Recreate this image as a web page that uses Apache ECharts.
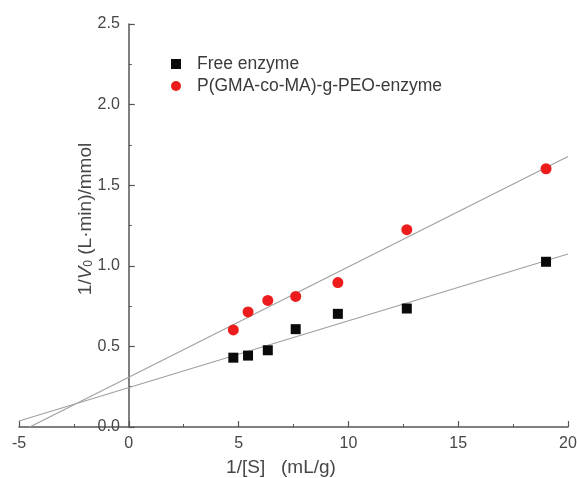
<!DOCTYPE html>
<html>
<head>
<meta charset="utf-8">
<script src="https://cdn.jsdelivr.net/npm/echarts@6/dist/echarts.min.js"></script>
<style>
  html, body { margin: 0; padding: 0; background: #fff; }
  #chart { width: 577px; height: 478px; }
</style>
</head>
<body>
<div id="chart"></div>
<script>
// Lineweaver–Burk data: 1/[S] (mL/g) against 1/V0 ((L·min)/mmol)
const invS = [4.76, 5.43, 6.33, 7.6, 9.52, 12.66, 19.0];
const freeEnzyme = [0.43, 0.443, 0.476, 0.607, 0.702, 0.735, 1.025];
const graftedEnzyme = [0.602, 0.714, 0.785, 0.81, 0.896, 1.224, 1.602];
const seriesNames = ['Free enzyme', 'P(GMA-co-MA)-g-PEO-enzyme'];
const xTicks = [-5, 0, 5, 10, 15, 20];
const yTicks = [0.0, 0.5, 1.0, 1.5, 2.0, 2.5];

// least-squares straight line through a set of points
function fit(xs, ys) {
  const n = xs.length;
  const mx = xs.reduce((a, b) => a + b, 0) / n;
  const my = ys.reduce((a, b) => a + b, 0) / n;
  let sxy = 0, sxx = 0;
  for (let i = 0; i < n; i++) {
    sxy += (xs[i] - mx) * (ys[i] - my);
    sxx += (xs[i] - mx) * (xs[i] - mx);
  }
  const slope = sxy / sxx;
  return { slope, intercept: my - slope * mx };
}
// fitted line across the whole x range, starting where it leaves y = 0
function fitLine(ys) {
  const f = fit(invS, ys);
  const x0 = xTicks[0], x1 = xTicks[xTicks.length - 1];
  let start = x0;
  if (f.intercept + f.slope * x0 < 0) start = -f.intercept / f.slope;
  return [[start, f.intercept + f.slope * start], [x1, f.intercept + f.slope * x1]];
}
const pairs = ys => invS.map((x, i) => [x, ys[i]]);

const axisColor = '#555555';
const labelColor = '#474747';
const font = 'Liberation Sans, Arial, sans-serif';

const gridLeft = 19, gridRight = 9;
const chartWidth = 577;

const chart = echarts.init(document.getElementById('chart'));

// the vertical axis stands at 1/[S] = 0, inside the plot area
const plotWidth = chartWidth - gridLeft - gridRight;
const xMin = xTicks[0], xMax = xTicks[xTicks.length - 1];
const yAxisShift = plotWidth * (0 - xMin) / (xMax - xMin);

chart.setOption({
  animation: false,
  backgroundColor: '#fff',
  grid: { left: gridLeft, right: gridRight, top: 24, bottom: 51, containLabel: false, outerBoundsMode: 'none' },
  legend: {
    orient: 'vertical',
    left: 166,
    top: 50,
    itemWidth: 10,
    itemHeight: 10,
    itemGap: 4,
    data: [
      { name: seriesNames[0], icon: 'rect' },
      { name: seriesNames[1], icon: 'circle' }
    ],
    textStyle: {
      fontFamily: font, fontSize: 17.5, color: '#3a3a3a',
      lineHeight: 18, padding: [0, 0, 0, 11]
    }
  },
  xAxis: {
    type: 'value',
    min: xMin,
    max: xMax,
    interval: 5,
    name: '1/[S]   (mL/g)',
    nameLocation: 'middle',
    nameGap: 31,
    nameMoveOverlap: false,
    nameTextStyle: { fontFamily: font, fontSize: 19, color: labelColor, padding: [0, 25, 0, 0] },
    axisLine: { onZero: false, lineStyle: { color: axisColor, width: 1.5 } },
    axisTick: { inside: true, length: 6, lineStyle: { color: axisColor, width: 1.2 } },
    minorTick: { show: true, splitNumber: 2, length: 3, lineStyle: { color: axisColor } },
    axisLabel: { fontFamily: font, fontSize: 16, color: labelColor, margin: 9,
      formatter: v => xTicks.includes(v) ? String(v) : '' },
    splitLine: { show: false }
  },
  yAxis: {
    type: 'value',
    min: yTicks[0],
    max: yTicks[yTicks.length - 1],
    interval: 0.5,
    offset: -yAxisShift,
    name: '{a|1/}{i|V}{s|0}{a| (L·min)/mmol}',
    nameLocation: 'middle',
    nameRotate: 90,
    nameGap: 34,
    nameMoveOverlap: false,
    nameTextStyle: {
      padding: [0, 0, 0, 13],
      rich: {
        a: { fontFamily: font, fontSize: 19, color: labelColor },
        i: { fontFamily: font, fontSize: 19, color: labelColor, fontStyle: 'italic' },
        s: { fontFamily: font, fontSize: 12, color: labelColor, verticalAlign: 'bottom', padding: [7, 0, 0, 0] }
      }
    },
    axisLine: { onZero: false, lineStyle: { color: axisColor, width: 1.5 } },
    axisTick: { inside: true, length: 6, lineStyle: { color: axisColor, width: 1.2 } },
    minorTick: { show: true, splitNumber: 2, length: 3, lineStyle: { color: axisColor } },
    axisLabel: { fontFamily: font, fontSize: 16, color: labelColor, margin: 9,
      formatter: v => v.toFixed(1) },
    splitLine: { show: false }
  },
  series: [
    {
      name: seriesNames[0] + ' fit',
      type: 'line',
      data: fitLine(freeEnzyme),
      showSymbol: false,
      silent: true,
      lineStyle: { color: '#a0a0a0', width: 1.2 },
      z: 1
    },
    {
      name: seriesNames[1] + ' fit',
      type: 'line',
      data: fitLine(graftedEnzyme),
      showSymbol: false,
      silent: true,
      lineStyle: { color: '#a0a0a0', width: 1.2 },
      z: 1
    },
    {
      name: seriesNames[0],
      type: 'scatter',
      symbol: 'rect',
      symbolSize: 10,
      data: pairs(freeEnzyme),
      itemStyle: { color: '#0a0a0a', opacity: 1 },
      z: 3
    },
    {
      name: seriesNames[1],
      type: 'scatter',
      symbol: 'circle',
      symbolSize: 11,
      data: pairs(graftedEnzyme),
      itemStyle: { color: '#ec1c1c', opacity: 1 },
      z: 3
    }
  ]
});
</script>
</body>
</html>
